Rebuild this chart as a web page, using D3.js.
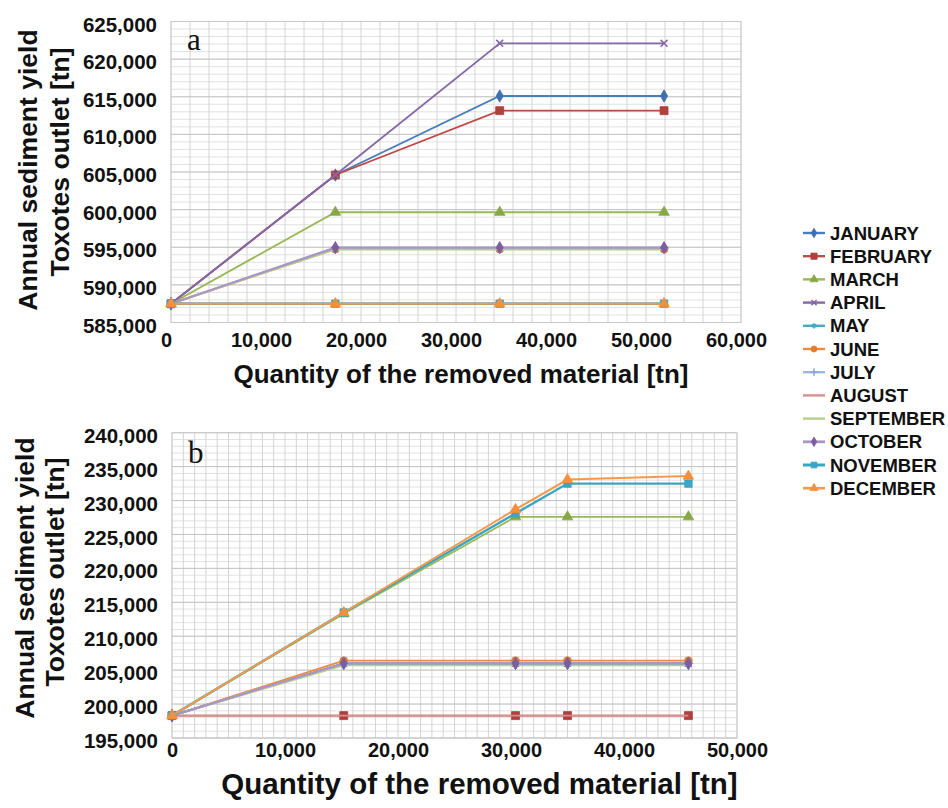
<!DOCTYPE html>
<html>
<head>
<meta charset="utf-8">
<script src="https://cdn.jsdelivr.net/npm/d3@7"></script>
<style>
  body { margin: 0; background: #fff; }
  text { font-family: "Liberation Sans", Arial, sans-serif; font-weight: bold; fill: #111; }
</style>
</head>
<body>
<svg id="chart" width="948" height="808"></svg>
<script>
var svg = d3.select("#chart");

// Data
var months = ["JANUARY", "FEBRUARY", "MARCH", "APRIL", "MAY", "JUNE",
              "JULY", "AUGUST", "SEPTEMBER", "OCTOBER", "NOVEMBER", "DECEMBER"];

// panel a - quantity removed [tn] and yield per month
var xA = [0, 17300, 34600, 51900];
var valuesA = [
  [587500, 604600, 615100, 615100],   // JANUARY
  [587500, 604600, 613150, 613150],   // FEBRUARY
  [587500, 599650, 599650, 599650],   // MARCH
  [587500, 604600, 622100, 622100],   // APRIL
  [587500, 587500, 587500, 587500],   // MAY
  [587500, 594750, 594750, 594750],   // JUNE
  [587500, 594950, 594950, 594950],   // JULY
  [587500, 587500, 587500, 587500],   // AUGUST
  [587500, 594700, 594700, 594700],   // SEPTEMBER
  [587500, 594950, 594950, 594950],   // OCTOBER
  [587500, 587500, 587500, 587500],   // NOVEMBER
  [587500, 587500, 587500, 587500]    // DECEMBER
];
var xTicksA = [0, 10000, 20000, 30000, 40000, 50000, 60000];
var yTicksA = [585000, 590000, 595000, 600000, 605000, 610000, 615000, 620000, 625000];

// panel b
var xB = [0, 15200, 30400, 35000, 45700];
var valuesB = [
  [198300, 206000, 206000, 206000, 206000],   // JANUARY
  [198300, 198300, 198300, 198300, 198300],   // FEBRUARY
  [198300, 213300, 227600, 227600, 227600],   // MARCH
  [198300, 206000, 206000, 206000, 206000],   // APRIL
  [198300, 205900, 205900, 205900, 205900],   // MAY
  [198300, 206400, 206400, 206400, 206400],   // JUNE
  [198300, 206000, 206000, 206000, 206000],   // JULY
  [198300, 198300, 198300, 198300, 198300],   // AUGUST
  [198300, 205700, 205700, 205700, 205700],   // SEPTEMBER
  [198300, 206000, 206000, 206000, 206000],   // OCTOBER
  [198300, 213500, 228100, 232500, 232500],   // NOVEMBER
  [198300, 213500, 228700, 233100, 233600]    // DECEMBER
];
var xTicksB = [0, 10000, 20000, 30000, 40000, 50000];
var yTicksB = [195000, 200000, 205000, 210000, 215000, 220000, 225000, 230000, 235000, 240000];

// Styles
var lineColors = ["#4a7ebb", "#be4b48", "#98b954", "#8467a6", "#46aac5", "#ee8a3e",
                  "#9bb7dc", "#d8908e", "#b5d08b", "#a996c6", "#3aa6c4", "#f7994a"];
var markerColors = ["#3f6fb0", "#b0403d", "#86a845", "#8467a6", "#46aac5", "#e07d32",
                    "#8aa8d4", "#d8908e", "none", "#7b5ea0", "#3aa6c4", "#f58f3c"];
var markerTypes = [d3.symbolDiamond, d3.symbolSquare, d3.symbolTriangle, d3.symbolTimes,
                   d3.symbolAsterisk, d3.symbolCircle, d3.symbolPlus, null, null,
                   d3.symbolDiamond, d3.symbolSquare, d3.symbolTriangle];
var markerSizes = [44, 64, 48, 40, 40, 48, 40, 0, 0, 44, 56, 48];
var strokeSymbols = [d3.symbolTimes, d3.symbolAsterisk, d3.symbolPlus];
var lineWidths = [1.8, 1.8, 1.8, 1.8, 1.8, 1.8, 1.8, 1.8, 1.8, 2.2, 2.4, 2];

var fmt = d3.format(",");

function drawMarker(g, type, color, size, cx, cy) {
  if (!type || color == "none") return;
  var isStroke = strokeSymbols.indexOf(type) >= 0;
  g.append("path")
   .attr("d", d3.symbol().type(type).size(isStroke ? size * 0.8 : size)())
   .attr("transform", "translate(" + cx + "," + cy + ")")
   .attr("fill", isStroke ? "none" : color)
   .attr("stroke", color)
   .attr("stroke-width", isStroke ? 1.6 : 0.8);
}

function drawPanel(p) {
  var g = svg.append("g");
  var x = d3.scaleLinear().domain([p.xTicks[0], p.xTicks[p.xTicks.length - 1]]).range([p.left, p.right]);
  var y = d3.scaleLinear().domain([p.yTicks[0], p.yTicks[p.yTicks.length - 1]]).range([p.bottom, p.top]);

  // grid
  g.append("rect").attr("x", p.left).attr("y", p.top)
   .attr("width", p.right - p.left).attr("height", p.bottom - p.top).attr("fill", "#fff");
  g.selectAll(".hminor")
   .data(d3.range(y.domain()[0], y.domain()[1] + 1, 1000))
   .enter().append("line")
   .attr("x1", p.left).attr("x2", p.right)
   .attr("y1", function(d) { return y(d); }).attr("y2", function(d) { return y(d); })
   .attr("stroke", "#e2e2e2");
  g.selectAll(".vgrid")
   .data(d3.range(x.domain()[0], x.domain()[1] + 1, p.xMinor))
   .enter().append("line")
   .attr("x1", function(d) { return x(d); }).attr("x2", function(d) { return x(d); })
   .attr("y1", p.top).attr("y2", p.bottom)
   .attr("stroke", "#d4d4d4");
  g.selectAll(".hmajor")
   .data(p.yTicks)
   .enter().append("line")
   .attr("x1", p.left).attr("x2", p.right)
   .attr("y1", function(d) { return y(d); }).attr("y2", function(d) { return y(d); })
   .attr("stroke", "#c4c4c4");
  g.append("rect").attr("x", p.left).attr("y", p.top)
   .attr("width", p.right - p.left).attr("height", p.bottom - p.top)
   .attr("fill", "none").attr("stroke", "#cccccc");

  // axes
  var yAxis = d3.axisLeft(y).tickValues(p.yTicks).tickFormat(fmt).tickSize(0).tickPadding(14);
  var ya = g.append("g").attr("transform", "translate(" + p.left + ",0)").call(yAxis);
  ya.select(".domain").remove();
  ya.selectAll("text").attr("font-size", 20.5).attr("dy", "0.32em")
    .attr("transform", "translate(0,3)");

  var xAxis = d3.axisBottom(x).tickValues(p.xTicks).tickFormat(fmt).tickSize(0).tickPadding(p.xPad);
  var xa = g.append("g").attr("transform", "translate(0," + p.bottom + ")").call(xAxis);
  xa.select(".domain").remove();
  xa.selectAll("text").attr("font-size", 20)
    .attr("transform", "translate(" + p.xShift + ",0)");

  // titles
  g.append("text").attr("x", (p.left + p.right) / 2 + p.xTitleShift).attr("y", p.xTitleY)
   .attr("text-anchor", "middle").attr("font-size", p.xTitleSize)
   .text("Quantity of the removed material [tn]");
  g.append("text")
   .attr("transform", "translate(" + p.yTitleX1 + "," + p.yTitleY1 + ") rotate(-90)")
   .attr("text-anchor", "middle").attr("font-size", 26.5)
   .text("Annual sediment yield");
  g.append("text")
   .attr("transform", "translate(" + p.yTitleX2 + "," + p.yTitleY2 + ") rotate(-90)")
   .attr("text-anchor", "middle").attr("font-size", 26.5)
   .text("Toxotes outlet [tn]");

  // panel letter
  g.append("text").attr("x", p.left + 16).attr("y", p.letterY)
   .style("font-family", "'Liberation Serif', 'DejaVu Serif', serif")
   .style("font-weight", "normal")
   .attr("font-size", 31).attr("fill", "#222").text(p.letter);

  // series
  var line = d3.line()
    .x(function(d) { return x(d[0]); })
    .y(function(d) { return y(d[1]); });
  p.values.forEach(function(vals, i) {
    var pts = p.xs.map(function(xv, j) { return [xv, vals[j]]; });
    var sg = g.append("g").attr("class", "series");
    sg.append("path").datum(pts)
      .attr("fill", "none")
      .attr("stroke", lineColors[i])
      .attr("stroke-width", lineWidths[i])
      .attr("d", line);
    pts.forEach(function(pt) {
      drawMarker(sg, markerTypes[i], markerColors[i], markerSizes[i], x(pt[0]), y(pt[1]));
    });
  });
}

drawPanel({
  letter: "a", letterY: 50,
  left: 171, right: 741, top: 21.5, bottom: 322.5,
  xTicks: xTicksA, yTicks: yTicksA, xMinor: 2000,
  xs: xA, values: valuesA,
  xPad: 10, xShift: -5,
  xTitleY: 383, xTitleSize: 26, xTitleShift: 5,
  yTitleX1: 37, yTitleY1: 170, yTitleX2: 69, yTitleY2: 162
});

drawPanel({
  letter: "b", letterY: 463,
  left: 172, right: 737, top: 432.7, bottom: 738,
  xTicks: xTicksB, yTicks: yTicksB, xMinor: 1000,
  xs: xB, values: valuesB,
  xPad: 5, xShift: 0,
  xTitleY: 794, xTitleSize: 29.5, xTitleShift: 25,
  yTitleX1: 34, yTitleY1: 578, yTitleX2: 64, yTitleY2: 572
});

// Legend
var legend = svg.append("g").attr("transform", "translate(803,233)");
months.forEach(function(m, i) {
  var row = legend.append("g").attr("transform", "translate(0," + (i * 23.2) + ")");
  row.append("line").attr("x1", 0).attr("x2", 22).attr("y1", 0).attr("y2", 0)
     .attr("stroke", lineColors[i]).attr("stroke-width", lineWidths[i] + 0.6);
  drawMarker(row, markerTypes[i], markerColors[i], markerSizes[i] * 0.6, 11, 0);
  row.append("text").attr("x", 27).attr("y", 0).attr("dy", "0.36em")
     .attr("font-size", 18.5).text(m);
});
</script>
</body>
</html>
